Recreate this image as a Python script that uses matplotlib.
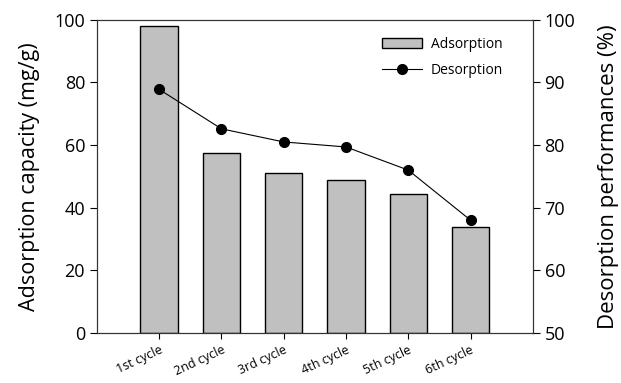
import numpy as np
import matplotlib.pyplot as plt

plt.rcParams['font.family'] = ['Open Sans', 'DejaVu Sans']

# Data
cycles = ["1st cycle", "2nd cycle", "3rd cycle", "4th cycle", "5th cycle", "6th cycle"]
adsorption = [97.9, 57.5, 51.0, 48.9, 44.4, 33.9]
desorption = [88.9, 82.6, 80.5, 79.7, 76.0, 68.0]

x = np.arange(len(cycles))

fig = plt.figure(figsize=(6.21, 3.83), dpi=100)
ax = fig.add_axes([0.156, 0.131, 0.702, 0.817])
ax2 = ax.twinx()

b = ax.bar(x, adsorption, width=0.6, color="#c0c0c0", edgecolor="black", linewidth=1.0, label="Adsorption")
l, = ax2.plot(x, desorption, color="black", linewidth=0.8, marker="o", markersize=7, label="Desorption")

ax.set_xlim(-1, 6)
ax.set_ylim(0, 100)
ax2.set_ylim(50, 100)
ax.set_yticks(np.arange(0, 101, 20))
ax2.set_yticks(np.arange(50, 101, 10))
ax.set_xticks(x)
ax.set_xticklabels(cycles, rotation=25, fontsize=9, ha="right", rotation_mode="anchor")

ax.tick_params(axis="y", labelsize=13, direction="out", length=5)
ax2.tick_params(axis="y", labelsize=13, direction="out", length=5)
ax.tick_params(axis="x", direction="out", length=4)

ax.set_ylabel("Adsorption capacity (mg/g)", fontsize=15.5, labelpad=10)
ax2.set_ylabel("Desorption performances (%)", fontsize=16, labelpad=16)

for a in (ax, ax2):
    for s in a.spines.values():
        s.set_color("#333333")

ax.legend([b, l], ["Adsorption", "Desorption"], loc="upper right", frameon=False,
          fontsize=10, bbox_to_anchor=(0.96, 0.985), handlelength=2.9,
          handletextpad=0.6, labelspacing=0.8)

fig.savefig("out.png", dpi=100)
